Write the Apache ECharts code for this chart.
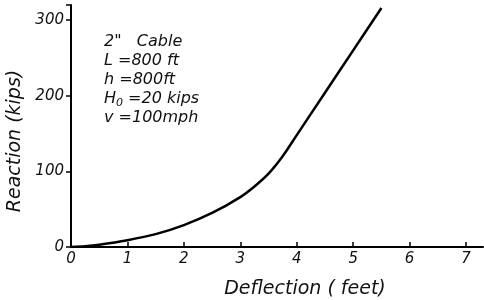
<!DOCTYPE html>
<html>
<head>
<meta charset="utf-8">
<script src="https://cdn.jsdelivr.net/npm/echarts@6/dist/echarts.min.js"></script>
<style>
  html, body { margin: 0; padding: 0; background: #fff; }
  #chart { width: 484px; height: 300px; }
</style>
</head>
<body>
<div id="chart"></div>
<script>
// deflection in feet (x) and reaction in kips (y)
var deflection = [0, 0.25, 0.5, 1, 1.5, 2, 2.5, 3, 3.25, 3.5, 3.75, 4, 4.5, 5, 5.5];
var reaction = [0, 1, 3, 9, 17, 29, 45, 66, 80, 97, 120, 148, 204, 260, 316];
var xTicks = [0, 1, 2, 3, 4, 5, 6, 7];
var yTicks = [0, 100, 200, 300];
var notes = ["2\"   Cable", "L =800 ft", "h =800ft", "{h|H}{s|0}{h| =20 kips}", "v =100mph"];

var chartDom = document.getElementById("chart");
var myChart = echarts.init(chartDom);
var font = "DejaVu Sans";

var points = [];
for (var i = 0; i < deflection.length; i++) {
  points.push([deflection[i], reaction[i]]);
}

var option = {
  backgroundColor: "#fff",
  animation: false,
  grid: {
    left: 71,
    right: 1,
    top: 5,
    bottom: 53,
    outerBoundsMode: "none",
  },
  xAxis: {
    type: "value",
    min: 0,
    max: 7.3,
    interval: 1,
    name: "Deflection ( feet)",
    nameLocation: "middle",
    nameGap: 33,
    nameTextStyle: {
      fontFamily: font, fontStyle: "italic", fontSize: 19, color: "#111",
      padding: [0, 0, 0, 56],
    },
    axisLine: { lineStyle: { color: "#000", width: 2 } },
    axisTick: { inside: true, length: 5, lineStyle: { color: "#000", width: 1.5 } },
    axisLabel: {
      fontFamily: font, fontStyle: "italic", fontSize: 15, color: "#111", margin: 5,
      showMaxLabel: false,
      formatter: function (v) { return xTicks.indexOf(v) >= 0 ? String(v) : ""; },
    },
    splitLine: { show: false },
  },
  yAxis: {
    type: "value",
    min: 0,
    max: 320,
    interval: 100,
    name: "Reaction (kips)",
    nameLocation: "middle",
    nameGap: 37,
    nameRotate: 90,
    nameTextStyle: {
      fontFamily: font, fontStyle: "italic", fontSize: 19, color: "#111",
      padding: [0, 30, 0, 0],
    },
    axisLine: { lineStyle: { color: "#000", width: 2 } },
    axisTick: { inside: false, length: 5, lineStyle: { color: "#000", width: 1.5 } },
    axisLabel: {
      fontFamily: font, fontStyle: "italic", fontSize: 15, color: "#111", margin: 7,
      formatter: function (v) { return yTicks.indexOf(v) >= 0 ? String(v) : ""; },
    },
    splitLine: { show: false },
  },
  graphic: notes.map(function (t, i) {
    return {
      type: "text",
      left: 104,
      top: 34 + i * 19,
      style: {
        text: t,
        fontFamily: font,
        fontStyle: "italic",
        fontSize: 16,
        fill: "#111",
        rich: {
          h: { fontFamily: font, fontStyle: "italic", fontSize: 16, fill: "#111" },
          s: { fontFamily: font, fontStyle: "italic", fontSize: 11, fill: "#111", padding: [8, 0, 0, 0] },
        },
      },
    };
  }),
  series: [
    {
      type: "line",
      data: points,
      smooth: 0.3,
      showSymbol: false,
      lineStyle: { color: "#000", width: 2.5 },
    },
  ],
};

option && myChart.setOption(option);
</script>
</body>
</html>
